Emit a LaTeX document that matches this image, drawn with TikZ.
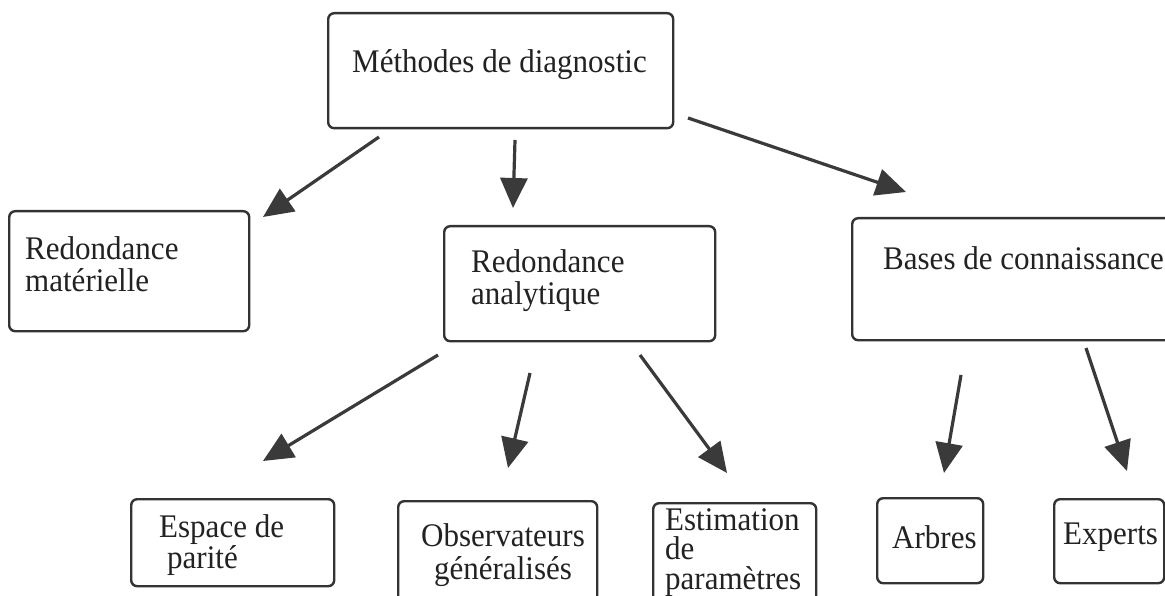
\documentclass[tikz,border=0pt]{standalone}
\usepackage{fontspec}
\setmainfont{Liberation Serif}[FakeStretch=0.94]
\usetikzlibrary{arrows.meta}
\definecolor{boxline}{HTML}{333333}
\definecolor{arrowcol}{HTML}{3A3A3A}
\definecolor{txt}{HTML}{222222}
\tikzset{
  box/.style={draw=boxline, line width=2.4pt, rounded corners=6pt, anchor=north west, inner sep=0pt},
  lbl/.style={font=\fontsize{33}{32}\selectfont, inner sep=0pt, align=left, text=txt},
  conn/.style={draw=arrowcol, line width=3.2pt, -{Triangle[length=30pt,width=27pt]}},
}
\begin{document}
\begin{tikzpicture}[x=1pt,y=-1pt]
\useasboundingbox[fill=white] (0,0) rectangle (1165,596);
% boxes
\node[box, minimum width=345pt, minimum height=115pt] (meth) at (327,12) {};
\node[box, minimum width=240pt, minimum height=120pt] (rm) at (8,210) {};
\node[box, minimum width=271pt, minimum height=115pt] (ra) at (443,225) {};
\node[box, minimum width=340pt, minimum height=122pt] (bc) at (851,217) {};
\node[box, minimum width=203pt, minimum height=87pt] (ep) at (130,498) {};
\node[box, minimum width=199pt, minimum height=110pt] (og) at (397,500) {};
\node[box, minimum width=163pt, minimum height=110pt] (es) at (652,502) {};
\node[box, minimum width=106pt, minimum height=85pt] (ar) at (876,497) {};
\node[box, minimum width=110pt, minimum height=84pt] (ex) at (1053,498) {};
% labels
\node[lbl, anchor=west] (tmeth) at (352,65) {Méthodes de diagnostic};
\node[lbl, anchor=north west] (trm) at (25,236) {Redondance\\matérielle};
\node[lbl, anchor=north west] (tra) at (471,249) {Redondance\\analytique};
\node[lbl, anchor=west] (tbc) at (883,258) {Bases de connaissance};
\node[lbl, anchor=north west, font=\fontsize{33}{31}\selectfont] (tep) at (159,514) {Espace de\\\hspace*{8pt}parité};
\node[lbl, anchor=north, align=center, font=\fontsize{33}{33}\selectfont] (tog) at (503,523) {Observateurs\\généralisés};
\node[lbl, anchor=north west, font=\fontsize{33}{29.5}\selectfont] (tes) at (665,508) {Estimation\\de\\paramètres};
\node[lbl, anchor=west] (tar) at (892,537) {Arbres};
\node[lbl, anchor=west] (tex) at (1063,537) {Experts};
% connector ends
\coordinate (m1) at (379,137); \coordinate (rmt) at (263,217);
\coordinate (m2) at (515,140); \coordinate (rat) at (513,208);
\coordinate (m3) at (688,118); \coordinate (bct) at (906,192);
\coordinate (a1) at (438,355); \coordinate (ept) at (263,461);
\coordinate (a2) at (530,373); \coordinate (ogt) at (508,468);
\coordinate (a3) at (640,355); \coordinate (est) at (727,473);
\coordinate (b1) at (961,375); \coordinate (art) at (944,473);
\coordinate (b2) at (1086,348); \coordinate (ext) at (1127,471);
\draw[conn] (m1) -- (rmt);
\draw[conn] (m2) -- (rat);
\draw[conn] (m3) -- (bct);
\draw[conn] (a1) -- (ept);
\draw[conn] (a2) -- (ogt);
\draw[conn] (a3) -- (est);
\draw[conn] (b1) -- (art);
\draw[conn] (b2) -- (ext);
\end{tikzpicture}
\end{document}
